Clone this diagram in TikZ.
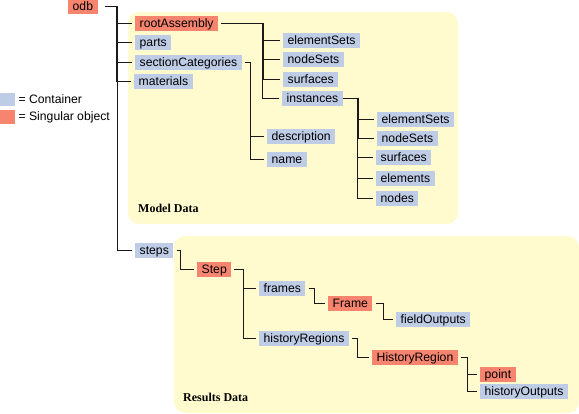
\documentclass[tikz,border=0pt]{standalone}
\usepackage{fontspec}
\setmainfont{Liberation Sans}
\newfontfamily\panelfont{Liberation Serif}
\usetikzlibrary{positioning}

\definecolor{contblue}{HTML}{BFCCE6}
\definecolor{singred}{HTML}{F7846F}
\definecolor{panelyellow}{HTML}{FFFBCE}

\begin{document}
\begin{tikzpicture}[x=1pt, y=-1pt, font=\fontsize{12.2}{14}\selectfont]
\tikzstyle{cont}=[rectangle, fill=contblue, anchor=west, inner xsep=4.5pt, inner ysep=0pt, minimum height=15pt, text height=9pt, text depth=2.5pt]
\tikzstyle{single}=[cont, fill=singred]
\tikzstyle{panel}=[fill=panelyellow, rounded corners=11pt]
\tikzstyle{panellabel}=[anchor=west, inner sep=0pt, font=\panelfont\bfseries\fontsize{12}{14}\selectfont]
\tikzstyle{connect}=[draw=black!90, line width=1pt, shorten <=3pt]
\tikzset{branch/.style={connect, to path={-| ([xshift=-#1]\tikztotarget.west) -- ([xshift=-3pt]\tikztotarget.west)}},
         branch/.default=16pt}

\useasboundingbox (0,0) rectangle (579,414);

% 1. Panels
%%%%%%%%%%%
\path[panel] (128,12) rectangle (458,224);
\path[panel] (174,236) rectangle (579,413);
\node[panellabel] (modeldata) at (138,208) {Model Data};
\node[panellabel] (resultsdata) at (183,397) {Results Data};

% 2. Legend
%%%%%%%%%%%
\node[cont, inner xsep=0pt, minimum width=15pt, minimum height=13pt] (contkey) at (0,99.5) {};
\node[anchor=west, inner sep=0pt] (contlabel) [right=3pt of contkey] {= Container};
\node[single, inner xsep=0pt, minimum width=15pt, minimum height=14pt] (singkey) at (0,117) {};
\node[anchor=west, inner sep=0pt] (singlabel) [right=3pt of singkey] {= Singular object};

% 3. Nodes
%%%%%%%%%%
\node[single] (odb) at (68,7) {odb};
\node[single] (rootAssembly) at (135,24) {rootAssembly};
\node[cont] (parts) at (135,43) {parts};
\node[cont] (sectionCategories) at (135,63) {sectionCategories};
\node[cont] (materials) at (134,82) {materials};
\node[cont] (steps) at (135,251) {steps};

\node[cont] (elementSets) at (283,41) {elementSets};
\node[cont] (nodeSets) at (283,60) {nodeSets};
\node[cont] (surfaces) at (283,80) {surfaces};
\node[cont] (instances) at (282,99) {instances};

\node[cont] (instElementSets) at (377,120) {elementSets};
\node[cont] (instNodeSets) at (377,139) {nodeSets};
\node[cont] (instSurfaces) at (376,158) {surfaces};
\node[cont] (elements) at (376,179) {elements};
\node[cont] (nodes) at (376,199) {nodes};

\node[cont] (description) at (267,137) {description};
\node[cont] (name) at (267,160) {name};

\node[single] (Step) at (197,270) {Step};
\node[cont] (frames) at (259,289) {frames};
\node[single] (Frame) at (328,304) {Frame};
\node[cont] (fieldOutputs) at (396,320) {fieldOutputs};
\node[cont] (historyRegions) at (259,339) {historyRegions};
\node[single] (HistoryRegion) at (372,358) {HistoryRegion};
\node[single] (point) at (480,375) {point};
\node[cont] (historyOutputs) at (480,392) {historyOutputs};

% 4. Connectors
%%%%%%%%%%%%%%%
\path (odb.east) edge [branch=18pt, shorten <=7pt] (rootAssembly)
                 edge [branch=18pt, shorten <=7pt] (parts)
                 edge [branch=18pt, shorten <=7pt] (sectionCategories)
                 edge [branch=18pt, shorten <=7pt] (materials)
                 edge [branch=18pt, shorten <=7pt] (steps);
\path (rootAssembly.east) edge [branch=20pt] (elementSets)
                          edge [branch=20pt] (nodeSets)
                          edge [branch=20pt] (surfaces)
                          edge [branch=20pt] (instances);
\path (instances.east) edge [branch=19pt, shorten <=0pt] (instElementSets)
                       edge [branch=19pt, shorten <=0pt] (instNodeSets)
                       edge [branch=19pt, shorten <=0pt] (instSurfaces)
                       edge [branch=19pt, shorten <=0pt] (elements)
                       edge [branch=19pt, shorten <=0pt] (nodes);
\path (sectionCategories.east) edge [branch=17pt] (description)
                               edge [branch=17pt] (name);
\path (steps.east)          edge [branch=17pt] (Step)
      (Step.east)           edge [branch] (frames)
                            edge [branch] (historyRegions)
      (frames.east)         edge [branch=14pt] (Frame)
      (Frame.east)          edge [branch=13pt] (fieldOutputs)
      (historyRegions.east) edge [branch=15pt] (HistoryRegion)
      (HistoryRegion.east)  edge [branch=13pt] (point)
                            edge [branch=13pt] (historyOutputs);

\end{tikzpicture}
\end{document}
